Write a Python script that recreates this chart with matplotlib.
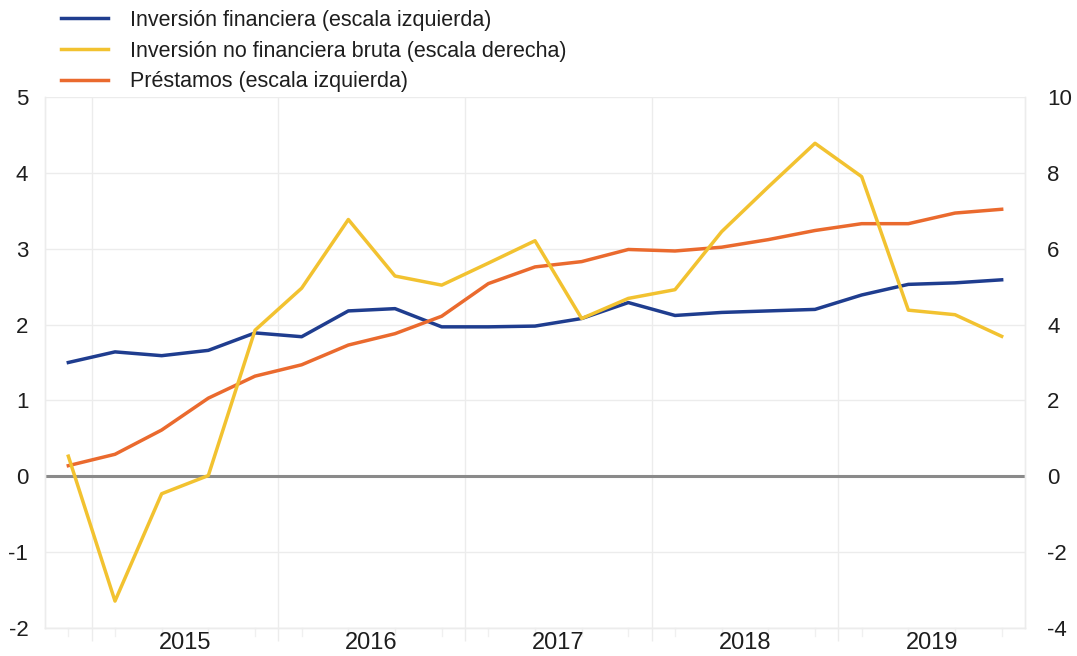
import numpy as np
import matplotlib
matplotlib.use("Agg")
import matplotlib.pyplot as plt
from matplotlib.ticker import FixedLocator

plt.rcParams['font.family'] = ['Liberation Sans', 'DejaVu Sans']
plt.rcParams['axes.unicode_minus'] = False

# quarterly observations, 2014Q4 - 2019Q4
quarters = ["2014Q4",
            "2015Q1", "2015Q2", "2015Q3", "2015Q4",
            "2016Q1", "2016Q2", "2016Q3", "2016Q4",
            "2017Q1", "2017Q2", "2017Q3", "2017Q4",
            "2018Q1", "2018Q2", "2018Q3", "2018Q4",
            "2019Q1", "2019Q2", "2019Q3", "2019Q4"]

# left scale
inversion_financiera = [1.50, 1.64, 1.59, 1.66, 1.89, 1.84, 2.18, 2.21, 1.97, 1.97, 1.98,
                        2.08, 2.29, 2.12, 2.16, 2.18, 2.20, 2.39, 2.53, 2.55, 2.59]
prestamos = [0.14, 0.29, 0.61, 1.03, 1.32, 1.47, 1.73, 1.88, 2.11, 2.54, 2.76,
             2.83, 2.99, 2.97, 3.02, 3.12, 3.24, 3.33, 3.33, 3.47, 3.52]
# right scale
inversion_no_fin = [0.53, -3.29, -0.46, 0.02, 3.85, 4.96, 6.77, 5.28, 5.04, 5.62, 6.21,
                    4.16, 4.69, 4.92, 6.45, 7.63, 8.78, 7.90, 4.38, 4.26, 3.69]

labels = ["Inversión financiera (escala izquierda)",
          "Inversión no financiera bruta (escala derecha)",
          "Préstamos (escala izquierda)"]
years = [2015, 2016, 2017, 2018, 2019]

c_blue = "#1f3d8f"
c_yellow = "#f2c230"
c_orange = "#ea6a2e"
c_grid = "#ececec"
c_text = "#1e1e1e"

# quarter midpoints as decimal years
x = np.array([int(q[:4]) + (int(q[-1]) - 0.5) / 4 for q in quarters])

fig = plt.figure(figsize=(10.77, 6.56), dpi=100)
ax = fig.add_axes([45 / 1077, 1 - 628 / 656, (1025 - 45) / 1077, (628 - 97) / 656])
ax2 = ax.twinx()

ax.set_xlim(2014.75, 2020.0)
ax.set_ylim(-2, 5)
ax2.set_ylim(-4, 10)
ax.set_yticks(range(-2, 6))
ax2.set_yticks(range(-4, 11, 2))

ax.axhline(0, color="#8a8a8a", lw=2.2, zorder=1)

l1, = ax.plot(x, inversion_financiera, color=c_blue, lw=2.5, zorder=3)
l3, = ax.plot(x, prestamos, color=c_orange, lw=2.5, zorder=3)
l2, = ax2.plot(x, inversion_no_fin, color=c_yellow, lw=2.5, zorder=3)

# gridlines
ax.grid(axis="y", color=c_grid, lw=1)
ax.xaxis.set_major_locator(FixedLocator(years))
ax.grid(axis="x", which="major", color=c_grid, lw=1)
ax.set_axisbelow(True)

# year labels centred in each year, quarter ticks below the axis
ax.set_xticklabels([])
ax.tick_params(axis="x", which="major", length=9, color=c_grid, width=1)
ax.xaxis.set_minor_locator(FixedLocator([y + 0.5 for y in years]))
ax.set_xticklabels([str(y) for y in years], minor=True)
ax.tick_params(axis="x", which="minor", length=0, pad=3, labelsize=17, labelcolor=c_text)
for xq in x:
    ax.plot([xq, xq], [-2, -2.1], color="#f0f0f0", lw=1, clip_on=False, zorder=0)

ax.tick_params(axis="y", length=0, pad=12, labelsize=16, labelcolor=c_text)
ax2.tick_params(axis="y", length=0, pad=16, labelsize=16, labelcolor=c_text)
for lab in ax2.get_yticklabels():
    lab.set_horizontalalignment("left")

for a in (ax, ax2):
    for s in a.spines.values():
        s.set_color(c_grid)
        s.set_linewidth(1)
ax2.spines["top"].set_visible(False)
ax.spines["top"].set_visible(False)

leg = fig.legend([l1, l2, l3], labels, loc="upper left", bbox_to_anchor=(61 / 1077, 0.985),
                 frameon=False, fontsize=15.5, handlelength=2.2, handletextpad=1.0,
                 labelspacing=0.45, borderpad=0, borderaxespad=0)
for t in leg.get_texts():
    t.set_color(c_text)

fig.savefig("out.png", dpi=100)
